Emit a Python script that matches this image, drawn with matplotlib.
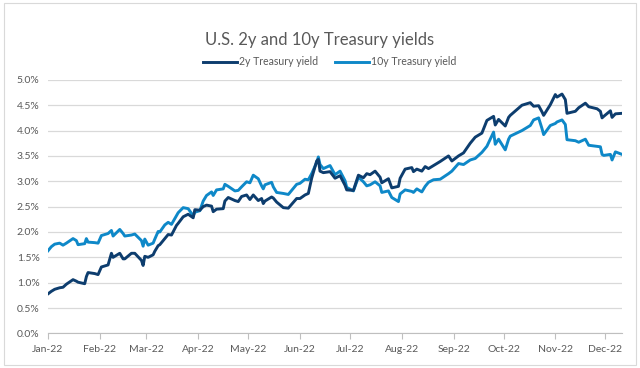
import datetime as dt
import matplotlib
matplotlib.use("Agg")
import matplotlib.pyplot as plt
import matplotlib.dates as mdates
from matplotlib.ticker import FuncFormatter, MultipleLocator
from matplotlib.patches import Rectangle

# dates (month, day) in 2022
dates_md = [
    (1, 3), (1, 5), (1, 7), (1, 10), (1, 12), (1, 14), (1, 18), (1, 20), (1, 21), (1, 25),
    (1, 26), (1, 27), (1, 31), (2, 2), (2, 4), (2, 8), (2, 10), (2, 11), (2, 15), (2, 17),
    (2, 18), (2, 22), (2, 24), (2, 28), (3, 1), (3, 2), (3, 4), (3, 7), (3, 8), (3, 10),
    (3, 11), (3, 14), (3, 16), (3, 18), (3, 21), (3, 22), (3, 25), (3, 28), (3, 31), (4, 1),
    (4, 4), (4, 6), (4, 8), (4, 11), (4, 12), (4, 14), (4, 18), (4, 19), (4, 21), (4, 25),
    (4, 27), (4, 29), (5, 2), (5, 4), (5, 6), (5, 9), (5, 11), (5, 12), (5, 13), (5, 17),
    (5, 18), (5, 20), (5, 24), (5, 27), (6, 1), (6, 3), (6, 6), (6, 8), (6, 10), (6, 13),
    (6, 14), (6, 15), (6, 17), (6, 21), (6, 24), (6, 27), (6, 30), (7, 1), (7, 5), (7, 8),
    (7, 11), (7, 13), (7, 15), (7, 18), (7, 21), (7, 22), (7, 26), (7, 28), (8, 1), (8, 2),
    (8, 5), (8, 9), (8, 10), (8, 12), (8, 15), (8, 17), (8, 19), (8, 22), (8, 26), (8, 31),
    (9, 2), (9, 6), (9, 9), (9, 13), (9, 16), (9, 20), (9, 23), (9, 27), (9, 28), (9, 30),
    (10, 4), (10, 6), (10, 7), (10, 14), (10, 19), (10, 21), (10, 24), (10, 26), (10, 27), (10, 31),
    (11, 3), (11, 4), (11, 7), (11, 9), (11, 10), (11, 15), (11, 17), (11, 21), (11, 23), (11, 28),
    (11, 30), (12, 1), (12, 2), (12, 6), (12, 7), (12, 9), (12, 13),
]

yield_2y = [
    0.78, 0.83, 0.87, 0.90, 0.91, 0.97, 1.06, 1.03, 1.01, 0.98,
    1.12, 1.20, 1.18, 1.16, 1.31, 1.35, 1.58, 1.50, 1.58, 1.47,
    1.47, 1.58, 1.58, 1.44, 1.34, 1.52, 1.50, 1.55, 1.62, 1.73,
    1.75, 1.87, 1.95, 1.94, 2.13, 2.17, 2.30, 2.35, 2.28, 2.44,
    2.43, 2.50, 2.53, 2.51, 2.40, 2.45, 2.46, 2.61, 2.68, 2.62,
    2.60, 2.70, 2.73, 2.64, 2.73, 2.62, 2.66, 2.56, 2.61, 2.69,
    2.67, 2.59, 2.48, 2.47, 2.66, 2.66, 2.73, 2.76, 3.06, 3.40,
    3.43, 3.20, 3.17, 3.19, 3.06, 3.11, 2.92, 2.83, 2.82, 3.12,
    3.07, 3.15, 3.13, 3.20, 3.08, 2.97, 3.05, 2.87, 2.90, 3.06,
    3.24, 3.27, 3.19, 3.24, 3.20, 3.29, 3.25, 3.31, 3.39, 3.50,
    3.40, 3.50, 3.56, 3.75, 3.87, 3.95, 4.20, 4.28, 4.11, 4.22,
    4.09, 4.26, 4.30, 4.50, 4.55, 4.48, 4.49, 4.37, 4.30, 4.51,
    4.71, 4.66, 4.72, 4.61, 4.34, 4.38, 4.45, 4.54, 4.47, 4.43,
    4.38, 4.25, 4.28, 4.39, 4.26, 4.33, 4.34,
]

yield_10y = [
    1.63, 1.71, 1.76, 1.78, 1.74, 1.78, 1.87, 1.83, 1.75, 1.77,
    1.87, 1.80, 1.79, 1.78, 1.93, 1.97, 2.03, 1.92, 2.05, 1.97,
    1.92, 1.94, 1.96, 1.83, 1.72, 1.86, 1.74, 1.78, 1.86, 2.01,
    2.00, 2.14, 2.19, 2.15, 2.32, 2.38, 2.48, 2.46, 2.32, 2.39,
    2.42, 2.61, 2.72, 2.79, 2.72, 2.83, 2.85, 2.94, 2.90, 2.81,
    2.82, 2.89, 2.99, 2.97, 3.12, 3.05, 2.91, 2.85, 2.93, 2.98,
    2.89, 2.78, 2.76, 2.74, 2.94, 2.96, 3.04, 3.03, 3.15, 3.37,
    3.48, 3.33, 3.25, 3.31, 3.13, 3.20, 3.01, 2.88, 2.81, 3.08,
    2.99, 2.91, 2.93, 2.99, 2.91, 2.78, 2.81, 2.68, 2.60, 2.75,
    2.83, 2.80, 2.78, 2.85, 2.79, 2.90, 2.98, 3.03, 3.04, 3.15,
    3.20, 3.35, 3.33, 3.42, 3.45, 3.57, 3.69, 3.97, 3.73, 3.83,
    3.62, 3.83, 3.89, 4.00, 4.10, 4.21, 4.25, 4.04, 3.92, 4.10,
    4.14, 4.17, 4.21, 4.12, 3.82, 3.80, 3.77, 3.83, 3.71, 3.69,
    3.68, 3.53, 3.51, 3.53, 3.42, 3.58, 3.53,
]

dates = [dt.date(2022, m, d) for m, d in dates_md]

plt.rcParams['font.family'] = ['Lato', 'DejaVu Sans']
txt_color = '#595959'
c2y = '#0d3d6e'
c10y = '#0e88c8'

fig = plt.figure(figsize=(6.4, 3.68), dpi=100)
fig.patches.append(Rectangle((0.006, 0.008), 0.988, 0.984, transform=fig.transFigure,
                             fill=False, edgecolor='#d9d9d9', linewidth=0.8))

ax = fig.add_axes([0.075, 0.094, 0.897, 0.689])
ax.plot(dates, yield_2y, color=c2y, linewidth=2.1, label='2y Treasury yield', zorder=3)
ax.plot(dates, yield_10y, color=c10y, linewidth=2.1, label='10y Treasury yield', zorder=2)

ax.set_ylim(0, 5.0)
ax.yaxis.set_major_locator(MultipleLocator(0.5))
ax.yaxis.set_major_formatter(FuncFormatter(lambda v, p: f"{v:.1f}%"))
ax.set_xlim(dates[0], dates[-1])
ax.xaxis.set_major_locator(mdates.MonthLocator(bymonthday=3))
ax.xaxis.set_major_formatter(mdates.DateFormatter('%b-%y'))

ax.grid(axis='y', color='#d9d9d9', linewidth=0.9)
ax.set_axisbelow(True)
for s in ['top', 'right', 'left']:
    ax.spines[s].set_visible(False)
ax.spines['bottom'].set_color('#bfbfbf')
ax.tick_params(axis='y', length=0, labelsize=7.5, labelcolor=txt_color, pad=6)
ax.tick_params(axis='x', length=4, color='#bfbfbf', labelsize=7.5, labelcolor=txt_color, pad=4)

fig.text(0.5, 0.89, 'U.S. 2y and 10y Treasury yields', ha='center', va='center',
         fontsize=12, color=txt_color)
fig.legend(loc='center', bbox_to_anchor=(0.515, 0.832), ncol=2, frameon=False,
           fontsize=7.6, labelcolor=txt_color, handlelength=3.2, handletextpad=0.2,
           columnspacing=1.6)

plt.savefig('out.png', dpi=100)
